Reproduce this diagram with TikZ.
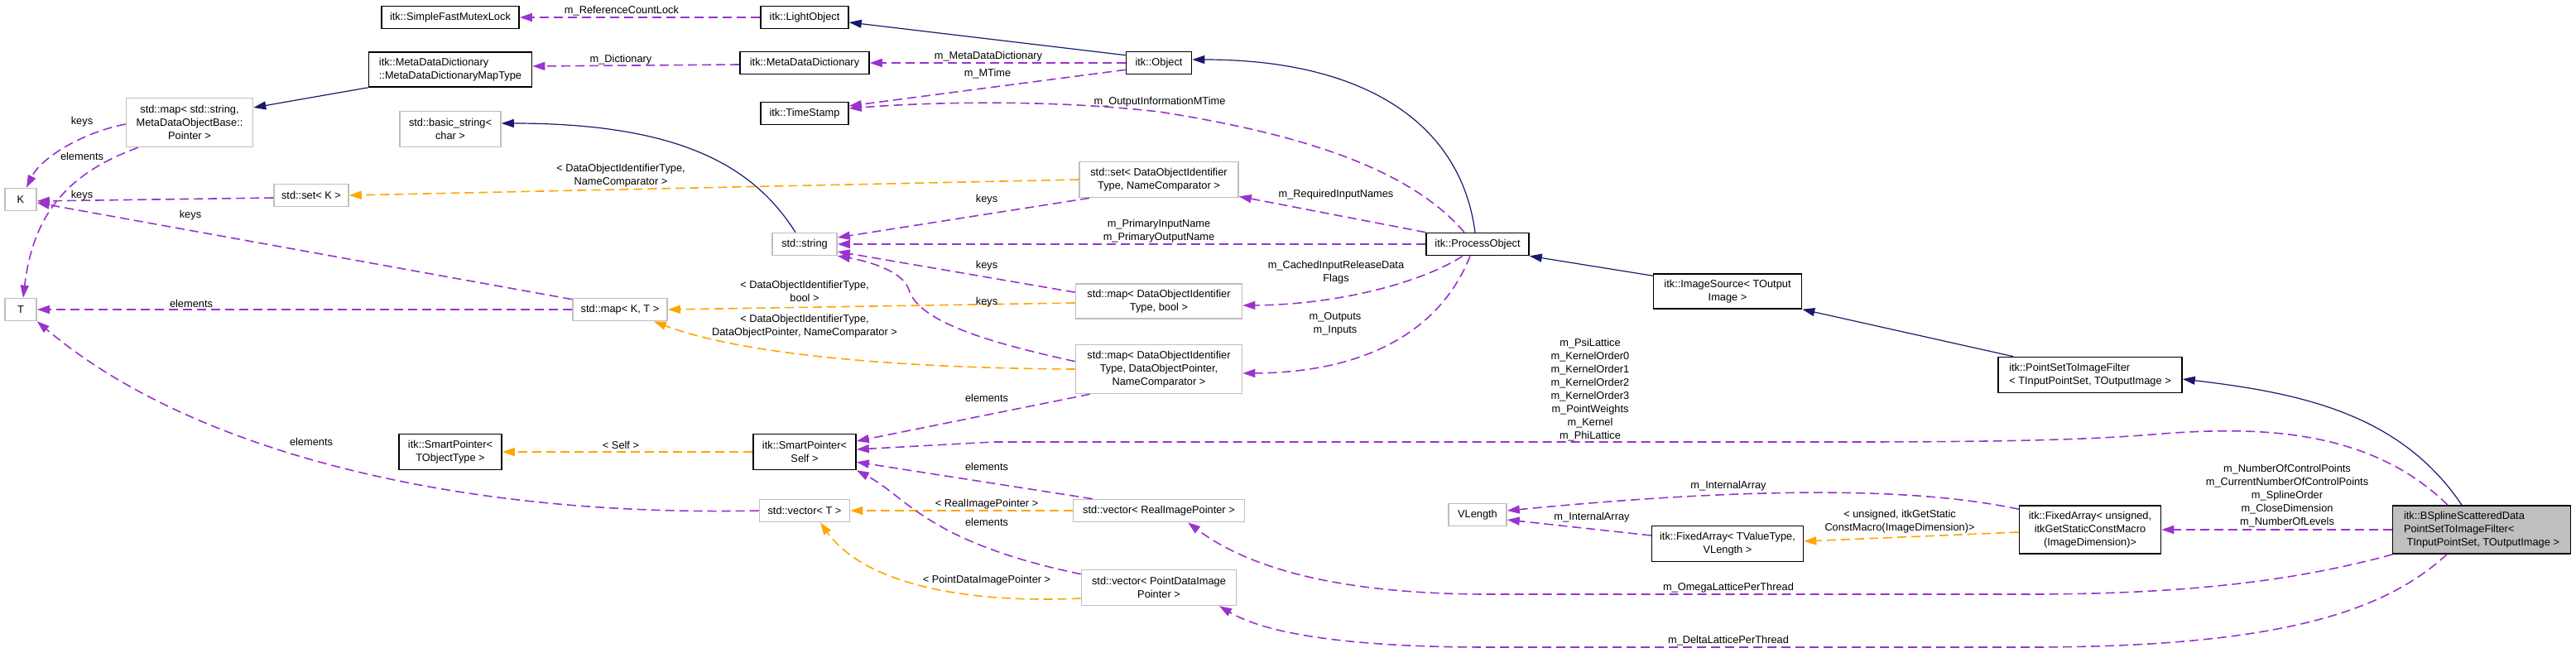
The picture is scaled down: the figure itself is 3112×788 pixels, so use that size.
\documentclass[tikz,border=0pt]{standalone}
\usepackage{fontspec}
\setmainfont{Liberation Sans}
\usetikzlibrary{arrows.meta,calc}
\definecolor{purp}{HTML}{9A32CD}
\definecolor{orng}{HTML}{FFA500}
\definecolor{navyc}{HTML}{191970}
\definecolor{greybd}{HTML}{BFBFBF}
\newcommand{\dfont}{\fontsize{6.4pt}{8pt}\selectfont}
\begin{document}
\begin{tikzpicture}[x=0.5pt,y=-0.5pt,
  every node/.style={font=\dfont},
  dbox/.style={draw=black,line width=0.8pt,fill=white,inner sep=0pt,align=center},
  ubox/.style={draw=greybd,line width=0.8pt,fill=white,inner sep=0pt,align=center},
  sz/.style 2 args={minimum width={#1*0.5pt},minimum height={#2*0.5pt}},
  lbl/.style={inner sep=0pt,align=center},
  tip/.style={-{Triangle[length=7.5pt,width=5pt]}},
  rel/.style={tip,draw=purp,line width=0.8pt,dash pattern=on 5.5pt off 3pt},
  tmpl/.style={tip,draw=orng,line width=0.8pt,dash pattern=on 5.5pt off 3pt},
  inh/.style={tip,draw=navyc,line width=0.6pt}]
\useasboundingbox (0,0) rectangle (3112,788);

% nodes
\node[dbox,sz={166}{27}] (sfml) at (544,21) {itk::SimpleFastMutexLock};
\node[dbox,sz={197}{42},align=left] (mdmap) at (544,84) {itk::MetaDataDictionary\\::MetaDataDictionaryMapType};
\node[ubox,sz={153}{59}] (smap) at (229,148) {std::map< std::string,\\MetaDataObjectBase::\\Pointer >};
\node[ubox,sz={122}{43}] (bstr) at (544,156) {std::basic\_string<\\char >};
\node[ubox,sz={90}{27}] (setk) at (376,236) {std::set< K >};
\node[ubox,sz={38}{27}] (K) at (25,241) {K};
\node[ubox,sz={38}{27}] (T) at (25,374) {T};
\node[ubox,sz={114}{27}] (mapkt) at (749,374) {std::map< K, T >};
\node[dbox,sz={106}{27}] (lo) at (972,21) {itk::LightObject};
\node[dbox,sz={156}{27}] (mdd) at (972,76) {itk::MetaDataDictionary};
\node[dbox,sz={79}{27}] (obj) at (1400,76) {itk::Object};
\node[dbox,sz={106}{27}] (ts) at (972,137) {itk::TimeStamp};
\node[ubox,sz={192}{43}] (setdo) at (1400,217) {std::set< DataObjectIdentifier\\Type, NameComparator >};
\node[ubox,sz={78}{27}] (str) at (972,295) {std::string};
\node[dbox,sz={124}{27}] (po) at (1785,295) {itk::ProcessObject};
\node[ubox,sz={201}{42}] (mapbool) at (1400,364) {std::map< DataObjectIdentifier\\Type, bool >};
\node[ubox,sz={201}{59}] (mapdop) at (1400,446) {std::map< DataObjectIdentifier\\Type, DataObjectPointer,\\NameComparator >};
\node[dbox,sz={124}{43}] (spself) at (972,546) {itk::SmartPointer<\\Self >};
\node[ubox,sz={109}{27}] (vect) at (972,617) {std::vector< T >};
\node[ubox,sz={207}{27}] (vecreal) at (1400,617) {std::vector< RealImagePointer >};
\node[ubox,sz={187}{43}] (vecpd) at (1400,710) {std::vector< PointDataImage\\Pointer >};
\node[dbox,sz={124}{43}] (spobj) at (544,546) {itk::SmartPointer<\\TObjectType >};
\node[ubox,sz={70}{27}] (vlen) at (1785,622) {VLength};
\node[dbox,sz={183}{43}] (fatv) at (2087,657) {itk::FixedArray< TValueType,\\VLength >};
\node[dbox,sz={179}{42}] (isrc) at (2087,352) {itk::ImageSource< TOutput\\Image >};
\node[dbox,sz={222}{43},align=left] (psif) at (2525,453) {itk::PointSetToImageFilter\\< TInputPointSet, TOutputImage >};
\node[dbox,sz={171}{58}] (faun) at (2525,640) {itk::FixedArray< unsigned,\\itkGetStaticConstMacro\\(ImageDimension)>};
\node[dbox,sz={215}{58},align=left,fill=greybd] (bsp) at (2998,640) {itk::BSplineScatteredData\\PointSetToImageFilter<\\\ TInputPointSet, TOutputImage >};

% edges
\draw[rel] (lo.west) -- (sfml.east);
\draw[inh] ($(obj.north west)+(0,5)$) -- ($(lo.east)+(0,6)$);
\draw[rel] ($(mdd.west)+(0,2)$) -- ($(mdmap.east)+(0,-4)$);
\draw[inh] (mdmap.south west) -- ($(smap.east)+(0,-18)$);
\draw[rel] ($(smap.west)+(0,2)$) .. controls (100,160) and (50,190) .. ($(K.north)+(7,0)$);
\draw[rel] ($(smap.south west)+(15,0)$) .. controls (80,210) and (40,260) .. ($(T.north)+(3,0)$);
\draw[rel] (obj.west) -- (mdd.east);
\draw[rel] ($(obj.south west)+(0,-6)$) -- ($(ts.east)+(0,-9)$);
\draw[rel] ($(po.north)+(-16,0)$) .. controls (1700,200) and (1560,160) .. (1400,135) .. controls (1250,118) and (1100,125) .. ($(ts.east)+(0,-6)$);
\draw[inh] ($(po.north)+(-3,0)$) .. controls (1765,150) and (1650,72) .. ($(obj.east)+(0,-4)$);
\draw[inh] ($(str.north)+(-11,0)$) .. controls (910,200) and (820,149) .. ($(bstr.east)+(0,-7)$);
\draw[tmpl] (setdo.west) -- (setk.east);
\draw[rel] ($(setk.west)+(0,3)$) -- ($(K.east)+(0,2)$);
\draw[rel] ($(mapkt.north west)+(0,2)$) -- ($(K.east)+(0,4)$);
\draw[rel] (mapkt.west) -- (T.east);
\draw[rel] ($(setdo.south west)+(13,0)$) -- ($(str.east)+(0,-8)$);
\draw[rel] (po.north west) -- ($(setdo.south east)+(0,-2)$);
\draw[rel] (po.west) -- (str.east);
\draw[rel] ($(mapbool.north west)+(0,11)$) -- ($(str.east)+(0,9)$);
\draw[tmpl] ($(mapbool.west)+(0,2)$) -- (mapkt.east);
\draw[rel] ($(po.south)+(-18,0)$) .. controls (1720,340) and (1620,368) .. ($(mapbool.east)+(0,5)$);
\draw[rel] ($(mapdop.north west)+(0,21)$) .. controls (1200,415) and (1110,390) .. (1098,350) .. controls (1090,325) and (1040,314) .. (str.south east);
\draw[tmpl] (mapdop.west) .. controls (1100,445) and (900,430) .. ($(mapkt.south east)+(-17,0)$);
\draw[rel] ($(po.south)+(-9,0)$) .. controls (1740,400) and (1650,450) .. ($(mapdop.east)+(0,5)$);
\draw[rel] ($(mapdop.south west)+(18,0)$) -- ($(spself.east)+(0,-13)$);
\draw[tmpl] (spself.west) -- (spobj.east);
\draw[rel] (vect.west) .. controls (550,625) and (230,545) .. (T.south east);
\draw[tmpl] (vecreal.west) -- (vect.east);
\draw[rel] ($(vecreal.north west)+(24,0)$) -- ($(spself.south east)+(0,-10)$);
\draw[tmpl] ($(vecpd.west)+(0,13)$) .. controls (1150,730) and (1040,700) .. ($(vect.south)+(19,0)$);
\draw[rel] ($(vecpd.north west)+(0,6)$) .. controls (1120,655) and (1095,600) .. (spself.south east);
\draw[rel] ($(bsp.north)+(-41,0)$) .. controls (2860,515) and (2720,515) .. (2600,525) .. controls (2480,535) and (2300,534) .. (2100,534) -- (1200,534) -- ($(spself.east)+(0,-3)$);
\draw[rel] ($(bsp.south west)+(1,0)$) .. controls (2780,700) and (2650,718) .. (2450,718) -- (1800,718) .. controls (1600,718) and (1500,680) .. ($(vecreal.south)+(35,0)$);
\draw[rel] ($(bsp.south)+(-42,0)$) .. controls (2880,740) and (2750,782) .. (2450,782) -- (1800,782) .. controls (1600,782) and (1520,760) .. ($(vecpd.south)+(73,0)$);
\draw[inh] ($(bsp.north)+(-24,0)$) .. controls (2900,500) and (2780,475) .. ($(psif.east)+(0,5)$);
\draw[inh] ($(psif.north west)+(19,0)$) -- (isrc.south east);
\draw[inh] ($(isrc.north west)+(0,3)$) -- (po.south east);
\draw[rel] (bsp.west) -- (faun.east);
\draw[tmpl] ($(faun.west)+(0,3)$) -- ($(fatv.east)+(0,-3)$);
\draw[rel] ($(faun.north west)+(0,5)$) .. controls (2330,592) and (2150,585) .. ($(vlen.east)+(0,-5)$);
\draw[rel] ($(fatv.west)+(0,-10)$) -- ($(vlen.east)+(0,6)$);

% labels
\node[lbl] (l1) at (751,13) {m\_ReferenceCountLock};
\node[lbl] (l2) at (750,72) {m\_Dictionary};
\node[lbl] (l3) at (99,147) {keys};
\node[lbl] (l4) at (99,189) {elements};
\node[lbl] (l5) at (1194,68) {m\_MetaDataDictionary};
\node[lbl] (l6) at (1193,89) {m\_MTime};
\node[lbl] (l7) at (1401,123) {m\_OutputInformationMTime};
\node[lbl] (l8) at (750,212) {< DataObjectIdentifierType,\\NameComparator >};
\node[lbl] (l9) at (99,236) {keys};
\node[lbl] (l10) at (230,260) {keys};
\node[lbl] (l11) at (231,367) {elements};
\node[lbl] (l12) at (1192,241) {keys};
\node[lbl] (l13) at (1614,235) {m\_RequiredInputNames};
\node[lbl] (l14) at (1400,279) {m\_PrimaryInputName\\m\_PrimaryOutputName};
\node[lbl] (l15) at (1192,321) {keys};
\node[lbl] (l16) at (972,352) {< DataObjectIdentifierType,\\bool >};
\node[lbl] (l17) at (1614,329) {m\_CachedInputReleaseData\\Flags};
\node[lbl] (l18) at (1192,365) {keys};
\node[lbl] (l19) at (972,394) {< DataObjectIdentifierType,\\DataObjectPointer, NameComparator >};
\node[lbl] (l20) at (1613,391) {m\_Outputs\\m\_Inputs};
\node[lbl] (l21) at (1192,481) {elements};
\node[lbl] (l22) at (750,538) {< Self >};
\node[lbl] (l23) at (376,534) {elements};
\node[lbl] (l24) at (1192,609) {< RealImagePointer >};
\node[lbl] (l25) at (1192,564) {elements};
\node[lbl] (l26) at (1192,701) {< PointDataImagePointer >};
\node[lbl] (l27) at (1192,631) {elements};
\node[lbl] (l28) at (1921,471) {m\_PsiLattice\\m\_KernelOrder0\\m\_KernelOrder1\\m\_KernelOrder2\\m\_KernelOrder3\\m\_PointWeights\\m\_Kernel\\m\_PhiLattice};
\node[lbl] (l29) at (2088,710) {m\_OmegaLatticePerThread};
\node[lbl] (l30) at (2088,774) {m\_DeltaLatticePerThread};
\node[lbl] (l31) at (2763,599) {m\_NumberOfControlPoints\\m\_CurrentNumberOfControlPoints\\m\_SplineOrder\\m\_CloseDimension\\m\_NumberOfLevels};
\node[lbl] (l32) at (2295,630) {< unsigned, itkGetStatic\\ConstMacro(ImageDimension)>};
\node[lbl] (l33) at (2088,587) {m\_InternalArray};
\node[lbl] (l34) at (1923,625) {m\_InternalArray};
\end{tikzpicture}
\end{document}
